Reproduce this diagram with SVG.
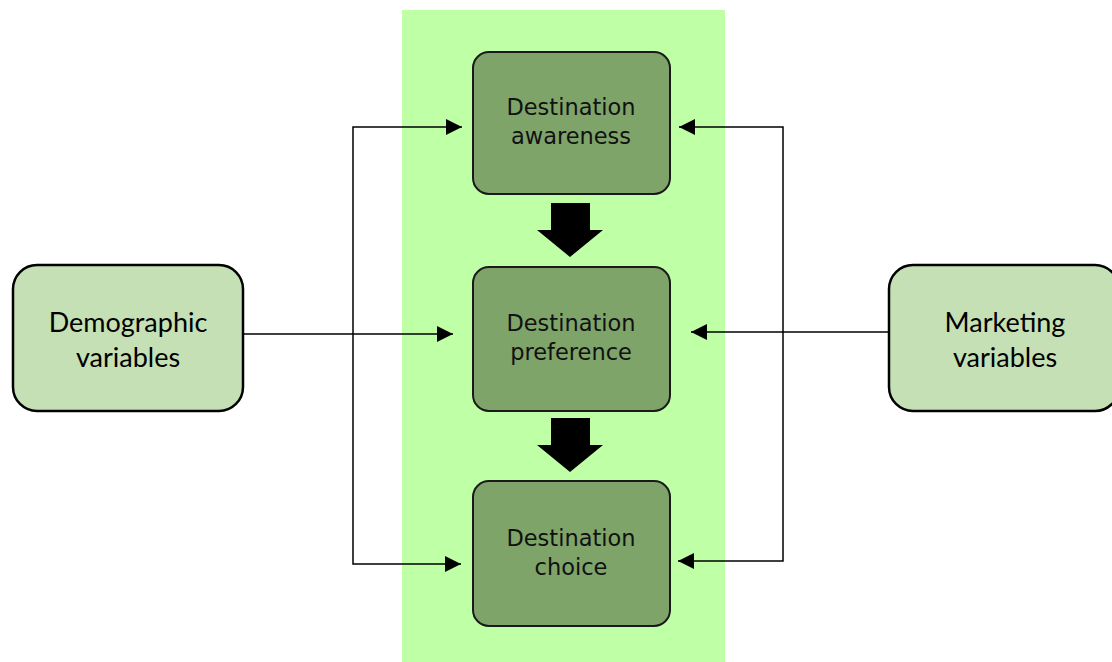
<svg xmlns="http://www.w3.org/2000/svg" width="1112" height="662" viewBox="0 0 1112 662">
<defs>
<style>
.outer{fill:#c5e0b4;stroke:#000;stroke-width:2.5}
.inner{fill:#7ea46a;stroke:#1a1a1a;stroke-width:2}
.ot{font-family:Lato,"Liberation Sans",sans-serif;font-size:27px;fill:#000;text-anchor:middle}
.it{font-family:"DejaVu Sans",sans-serif;font-size:22.5px;fill:#111;text-anchor:middle}
.ln{fill:none;stroke:#000;stroke-width:1.5;marker-end:url(#ah)}
.ln2{fill:none;stroke:#000;stroke-width:1.5;marker-start:url(#ah);marker-end:url(#ah)}
</style>
<marker id="ah" viewBox="0 0 16 16" refX="16" refY="8" markerWidth="16" markerHeight="16" markerUnits="userSpaceOnUse" orient="auto-start-reverse">
<path d="M0,0 L16,8 L0,16 Z" fill="#000"/>
</marker>
</defs>
<rect x="402" y="10" width="323" height="652" fill="#bfffa6"/>
<g id="connectors">
<polyline class="ln" points="243,334 453,334"/>
<polyline class="ln2" points="462,127 353,127 353,564 461,564"/>
<polyline class="ln" points="889,332 691,332"/>
<polyline class="ln2" points="679,127 783,127 783,561 678,561"/>
<path d="M551,203 H590 V230 H603 L570,257 L537,230 H551 Z" fill="#000"/>
<path d="M551,418 H590 V445 H603 L570,472 L537,445 H551 Z" fill="#000"/>
</g>
<g id="demographic">
<rect class="outer" x="13" y="265" width="230" height="146" rx="24"/>
<text class="ot" x="128" y="332">Demographic</text>
<text class="ot" x="128" y="367">variables</text>
</g>
<g id="marketing">
<rect class="outer" x="889" y="265" width="230" height="146" rx="24"/>
<text class="ot" x="1005" y="332">Marketing</text>
<text class="ot" x="1005" y="367">variables</text>
</g>
<g id="awareness">
<rect class="inner" x="473" y="52" width="197" height="142" rx="16"/>
<text class="it" x="571" y="115">Destination</text>
<text class="it" x="571" y="144">awareness</text>
</g>
<g id="preference">
<rect class="inner" x="473" y="267" width="197" height="144" rx="16"/>
<text class="it" x="571" y="331">Destination</text>
<text class="it" x="571" y="360">preference</text>
</g>
<g id="choice">
<rect class="inner" x="473" y="481" width="197" height="145" rx="16"/>
<text class="it" x="571" y="546">Destination</text>
<text class="it" x="571" y="575">choice</text>
</g>
</svg>
